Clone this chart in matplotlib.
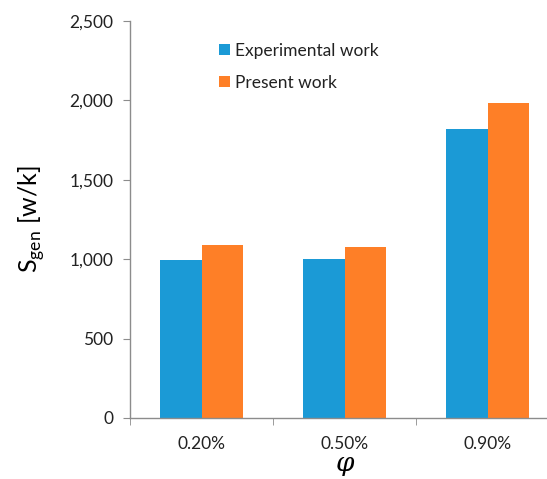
import matplotlib
matplotlib.use("Agg")
import matplotlib.pyplot as plt
import numpy as np
from matplotlib.ticker import FuncFormatter, FixedLocator

plt.rcParams['font.family'] = ['Lato', 'DejaVu Sans']

# volume fractions and entropy generation
categories = ['0.20%', '0.50%', '0.90%']
experimental = [996, 1003, 1822]
present = [1090, 1078, 1983]
series_names = ['Experimental work', 'Present work']
colors = ['#1b9ad6', '#fe7f27']

fig = plt.figure(figsize=(5.47, 4.79), dpi=100)
ax = fig.add_axes([130 / 547, 61 / 479, 429 / 547, 397 / 479])

x = np.arange(len(categories))
w = 0.287
ax.bar(x - w / 2, experimental, w, color=colors[0], label=series_names[0])
ax.bar(x + w / 2, present, w, color=colors[1], label=series_names[1])

ax.set_xlim(-0.5, len(categories) - 0.5)
ax.set_ylim(0, 2500)
ax.set_yticks(np.arange(0, 2501, 500))
ax.yaxis.set_major_formatter(FuncFormatter(lambda v, p: f'{int(v):,}'))

ax.set_xticks(x)
ax.set_xticklabels(categories)
ax.xaxis.set_minor_locator(FixedLocator([-0.5, 0.5, 1.5, 2.5]))
ax.tick_params(axis='x', which='major', length=0, pad=13, labelsize=12.5, colors='#222222')
ax.tick_params(axis='x', which='minor', length=5, color='#8c8c8c', direction='out')
ax.tick_params(axis='y', length=5, color='#8c8c8c', labelsize=12.5, labelcolor='#222222', pad=7)

for s in ['top', 'right']:
    ax.spines[s].set_visible(False)
for s in ['left', 'bottom']:
    ax.spines[s].set_color('#8c8c8c')
    ax.spines[s].set_linewidth(1.0)

ax.set_ylabel(r'S$_{\mathregular{gen}}$ [w/k]', fontsize=18, labelpad=16)
ax.set_xlabel('φ', fontsize=19, style='italic', labelpad=-1, family=['DejaVu Serif'])

leg = ax.legend(loc='upper left', bbox_to_anchor=(0.172, 0.985), frameon=False,
                fontsize=12.5, handlelength=0.6, handleheight=0.6,
                handletextpad=0.3, labelspacing=0.95)
for t in leg.get_texts():
    t.set_color('#222222')

fig.savefig('out.png', dpi=100)
